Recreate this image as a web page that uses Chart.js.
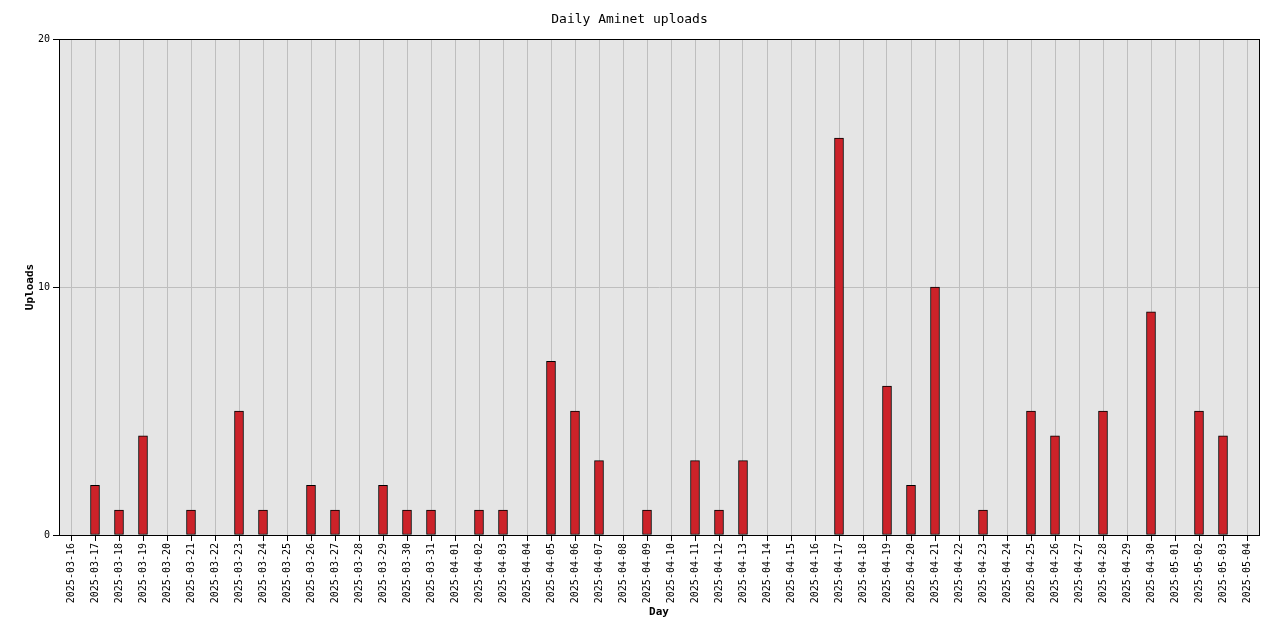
<!DOCTYPE html>
<html>
<head>
<meta charset="utf-8">
<script src="https://cdn.jsdelivr.net/npm/chart.js@4/dist/chart.umd.min.js"></script>
<style>
  html, body { margin: 0; padding: 0; background: #fff; }
  #wrap { width: 1280px; height: 640px; }
</style>
</head>
<body>
<div id="wrap"><canvas id="myChart" width="1280" height="640"></canvas></div>
<script>
'use strict';

let days = [
  '2025-03-16','2025-03-17','2025-03-18','2025-03-19','2025-03-20','2025-03-21','2025-03-22',
  '2025-03-23','2025-03-24','2025-03-25','2025-03-26','2025-03-27','2025-03-28','2025-03-29',
  '2025-03-30','2025-03-31','2025-04-01','2025-04-02','2025-04-03','2025-04-04','2025-04-05',
  '2025-04-06','2025-04-07','2025-04-08','2025-04-09','2025-04-10','2025-04-11','2025-04-12',
  '2025-04-13','2025-04-14','2025-04-15','2025-04-16','2025-04-17','2025-04-18','2025-04-19',
  '2025-04-20','2025-04-21','2025-04-22','2025-04-23','2025-04-24','2025-04-25','2025-04-26',
  '2025-04-27','2025-04-28','2025-04-29','2025-04-30','2025-05-01','2025-05-02','2025-05-03',
  '2025-05-04'
];
let uploads = [
  0, 2, 1, 4, 0, 1, 0,
  5, 1, 0, 2, 1, 0, 2,
  1, 1, 0, 1, 1, 0, 7,
  5, 3, 0, 1, 0, 3, 1,
  3, 0, 0, 0, 16, 0, 6,
  2, 10, 0, 1, 0, 5, 4,
  0, 5, 0, 9, 0, 5, 4,
  0
];
let yTicks = [0, 10, 20];

let mono = 'DejaVu Sans Mono';

// grey plot background + black frame round the plot area
let plotFrame = {
  id: 'plotFrame',
  beforeDraw(chart) {
    let a = chart.chartArea;
    let ctx = chart.ctx;
    ctx.save();
    ctx.fillStyle = '#e5e5e5';
    ctx.fillRect(a.left, a.top, a.right - a.left, a.bottom - a.top);
    ctx.restore();
  },
  beforeDatasetsDraw(chart) {
    let a = chart.chartArea;
    let ctx = chart.ctx;
    ctx.save();
    ctx.strokeStyle = '#000';
    ctx.lineWidth = 1;
    ctx.strokeRect(Math.round(a.left) + 0.5, Math.round(a.top) + 0.5,
      Math.round(a.right - a.left), Math.round(a.bottom - a.top));
    ctx.restore();
  }
};

let chardata = {
  type: 'bar',
  data: {
    labels: days,
    datasets: [{
      label: 'Uploads',
      data: uploads,
      backgroundColor: '#cc2229',
      borderColor: '#000',
      borderWidth: 1,
      borderSkipped: false,
      barThickness: 9
    }]
  },
  options: {
    responsive: false,
    animation: false,
    devicePixelRatio: 1,
    layout: { padding: { left: 0, right: 21, top: 0, bottom: 0 } },
    plugins: {
      legend: { display: false },
      tooltip: { enabled: false },
      title: {
        display: true,
        text: 'Daily Aminet uploads',
        color: '#000',
        font: { family: mono, size: 13, weight: 'normal' },
        padding: { top: 12, bottom: 11.4 }
      }
    },
    scales: {
      x: {
        offset: true,
        afterFit(scale) { scale.height = 105; },
        grid: {
          offset: false,
          color: '#bebebe',
          tickColor: '#000',
          tickLength: 6,
          drawOnChartArea: true
        },
        border: { color: '#000' },
        ticks: {
          autoSkip: false,
          minRotation: 90,
          maxRotation: 90,
          padding: 2,
          color: '#000',
          font: { family: mono, size: 10 }
        },
        title: {
          display: true,
          text: 'Day',
          color: '#000',
          font: { family: mono, size: 11, weight: 'bold' },
          padding: { top: 0, bottom: 21.4 }
        }
      },
      y: {
        min: yTicks[0],
        max: yTicks[yTicks.length - 1],
        afterFit(scale) { scale.width = 59; },
        afterBuildTicks(scale) { scale.ticks = yTicks.map(v => ({ value: v })); },
        grid: {
          color: '#bebebe',
          tickColor: '#000',
          tickLength: 6
        },
        border: { color: '#000' },
        ticks: {
          padding: 3,
          color: '#000',
          font: { family: mono, size: 10 }
        },
        title: {
          display: true,
          text: 'Uploads',
          color: '#000',
          font: { family: mono, size: 11, weight: 'bold' },
          padding: { top: 23.4, bottom: 0 }
        }
      }
    }
  },
  plugins: [plotFrame]
};

let ctx = document.getElementById('myChart').getContext('2d');
let myChart = new Chart(ctx, chardata);
</script>
</body>
</html>
